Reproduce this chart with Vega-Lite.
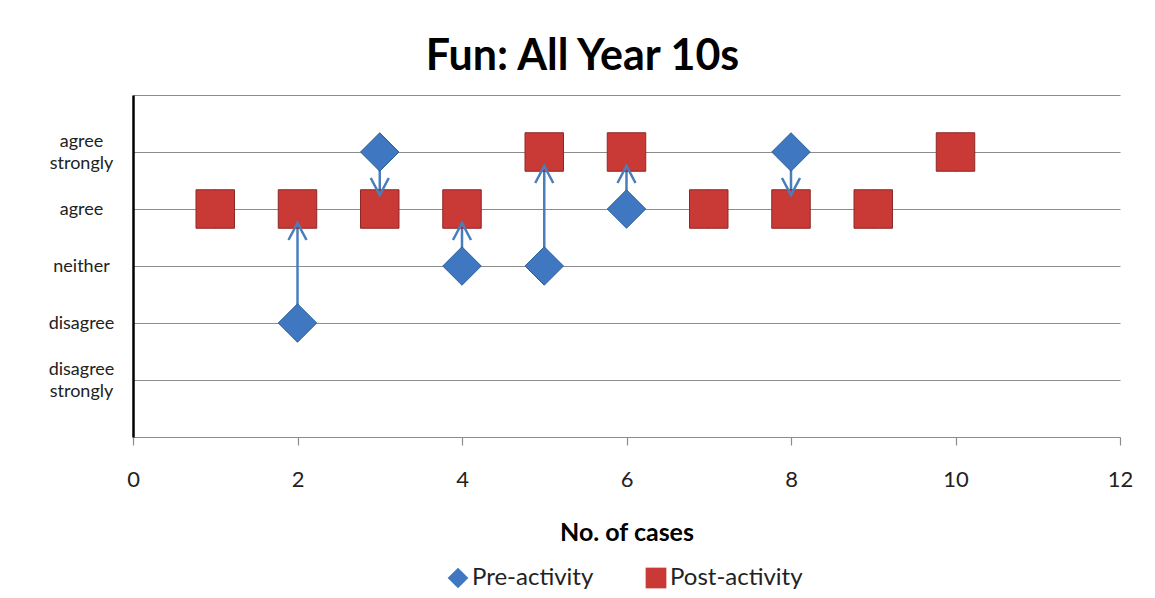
{
  "$schema": "https://vega.github.io/schema/vega-lite/v6.json",
  "autosize": {"type": "none"},
  "width": 987,
  "height": 342,
  "padding": {"left": 133, "top": 95, "right": 35, "bottom": 161},
  "background": "white",
  "title": {
    "text": "Fun: All Year 10s",
    "font": "Lato",
    "fontSize": 43,
    "fontWeight": "bold",
    "color": "black",
    "anchor": "middle",
    "frame": "group",
    "baseline": "alphabetic",
    "offset": -27,
    "dx": -44
  },
  "data": {
    "values": [
      {"case": 1, "Pre-activity": 4, "Post-activity": 4},
      {"case": 2, "Pre-activity": 2, "Post-activity": 4},
      {"case": 3, "Pre-activity": 5, "Post-activity": 4},
      {"case": 4, "Pre-activity": 3, "Post-activity": 4},
      {"case": 5, "Pre-activity": 3, "Post-activity": 5},
      {"case": 6, "Pre-activity": 4, "Post-activity": 5},
      {"case": 7, "Pre-activity": 4, "Post-activity": 4},
      {"case": 8, "Pre-activity": 5, "Post-activity": 4},
      {"case": 9, "Pre-activity": 4, "Post-activity": 4},
      {"case": 10, "Pre-activity": 5, "Post-activity": 5}
    ]
  },
  "config": {
    "view": {"stroke": null},
    "font": "Lato"
  },
  "layer": [
    {
      "transform": [{"filter": "datum['Pre-activity'] != datum['Post-activity']"}],
      "mark": {"type": "rule", "color": "#4a7ebb", "strokeWidth": 2.5},
      "encoding": {
        "x": {
          "field": "case", "type": "quantitative",
          "scale": {"domain": [0, 12], "nice": false},
          "axis": {
            "title": "No. of cases",
            "values": [0, 2, 4, 6, 8, 10, 12],
            "format": "d",
            "grid": false,
            "domainColor": "#8c8c8c",
            "domainWidth": 1.2,
            "tickColor": "#8c8c8c",
            "tickWidth": 1.2,
            "tickSize": 8,
            "labelFlush": false,
            "labelFont": "Lato",
            "labelFontSize": 22,
            "labelColor": "#222222",
            "labelPadding": 24,
            "titleFont": "Lato",
            "titleFontSize": 25,
            "titleFontWeight": "bold",
            "titleColor": "black",
            "titlePadding": 30
          }
        },
        "y": {
          "field": "Pre-activity", "type": "quantitative",
          "scale": {"domain": [0, 6], "nice": false},
          "axis": {
            "title": null,
            "values": [1, 2, 3, 4, 5, 6],
            "grid": true,
            "gridColor": "#8c8c8c",
            "gridWidth": 1.2,
            "ticks": false,
            "domainColor": "black",
            "domainWidth": 2.5,
            "labelFont": "Lato",
            "labelFontSize": 18,
            "labelColor": "#222222",
            "labelAlign": "center",
            "labelBaseline": "middle",
            "labelLineHeight": 22,
            "labelPadding": 52,
            "labelOffset": {"condition": {"test": "datum.value == 5 || datum.value == 1", "value": -11}, "value": 0},
            "labelOverlap": false,
            "labelBound": false,
            "labelExpr": "datum.value == 5 ? ['agree','strongly'] : datum.value == 4 ? 'agree' : datum.value == 3 ? 'neither' : datum.value == 2 ? 'disagree' : datum.value == 1 ? ['disagree','strongly'] : ''"
          }
        },
        "y2": {"field": "Post-activity"}
      }
    },
    {
      "transform": [
        {"fold": ["Pre-activity", "Post-activity"], "as": ["series", "score"]}
      ],
      "mark": {"type": "point", "filled": true, "opacity": 1, "size": 1480, "strokeWidth": 1},
      "encoding": {
        "x": {"field": "case", "type": "quantitative"},
        "y": {"field": "score", "type": "quantitative"},
        "shape": {
          "field": "series", "type": "nominal",
          "scale": {"domain": ["Pre-activity", "Post-activity"], "range": ["diamond", "square"]},
          "legend": {
            "title": null,
            "orient": "none",
            "direction": "horizontal",
            "legendX": 313,
            "legendY": 471,
            "symbolSize": 430,
            "symbolOpacity": 1,
            "symbolStrokeWidth": 0,
            "labelFont": "Lato",
            "labelFontSize": 24,
            "labelColor": "#222222",
            "labelOffset": 2,
            "columnPadding": 50
          }
        },
        "color": {
          "field": "series", "type": "nominal",
          "scale": {"domain": ["Pre-activity", "Post-activity"], "range": ["#3f78c0", "#c93a36"]},
          "legend": {
            "title": null,
            "orient": "none",
            "direction": "horizontal",
            "legendX": 313,
            "legendY": 471,
            "symbolSize": 430,
            "symbolOpacity": 1,
            "symbolStrokeWidth": 0,
            "labelFont": "Lato",
            "labelFontSize": 24,
            "labelColor": "#222222",
            "labelOffset": 2,
            "columnPadding": 50
          }
        },
        "stroke": {
          "field": "series", "type": "nominal",
          "scale": {"domain": ["Pre-activity", "Post-activity"], "range": ["#2f5f99", "#8e2826"]},
          "legend": null
        }
      }
    },
    {
      "transform": [{"filter": "datum['Post-activity'] > datum['Pre-activity']"}],
      "mark": {"type": "point", "shape": "M-0.53,1 L0,0 L0.53,1", "size": 1156, "filled": false, "opacity": 1, "color": "#4a7ebb", "strokeWidth": 2.5, "yOffset": 14},
      "encoding": {
        "x": {"field": "case", "type": "quantitative"},
        "y": {"field": "Post-activity", "type": "quantitative"}
      }
    },
    {
      "transform": [{"filter": "datum['Post-activity'] < datum['Pre-activity']"}],
      "mark": {"type": "point", "shape": "M-0.53,-1 L0,0 L0.53,-1", "size": 1156, "filled": false, "opacity": 1, "color": "#4a7ebb", "strokeWidth": 2.5, "yOffset": -14},
      "encoding": {
        "x": {"field": "case", "type": "quantitative"},
        "y": {"field": "Post-activity", "type": "quantitative"}
      }
    }
  ]
}
